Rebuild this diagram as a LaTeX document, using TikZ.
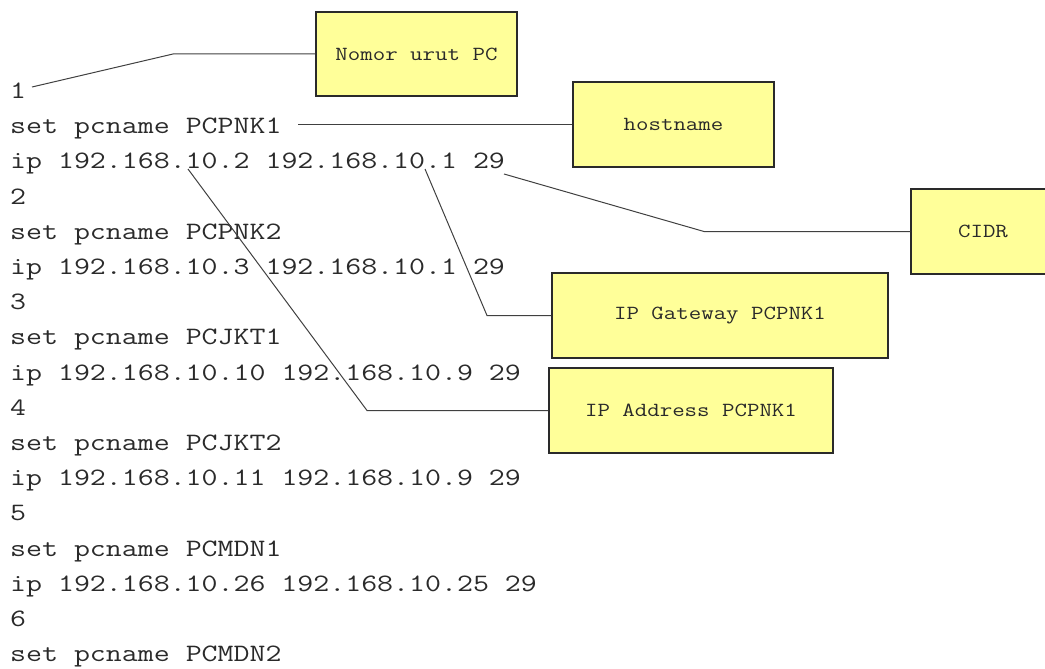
\documentclass[tikz,border=0pt]{standalone}
\usepackage{fontspec}
\newfontfamily\codefont{Latin Modern Mono}[FakeStretch=1.24]
\newfontfamily\boxfont{Latin Modern Mono}[FakeStretch=1.21]
\definecolor{boxfill}{HTML}{FFFF99}
\definecolor{inkgray}{HTML}{2A2A2A}
\tikzset{
  codeline/.style={anchor=base west, inner sep=0pt, text=inkgray,
    font=\codefont\fontsize{25}{28}\selectfont},
  notebox/.style={draw=inkgray, line width=1.3pt, fill=boxfill, inner sep=0pt,
    text=inkgray, font=\boxfont\fontsize{20}{22}\selectfont},
  leader/.style={draw=black!75, line width=1pt}
}
\begin{document}
\begin{tikzpicture}[x=1pt,y=-1pt]
\useasboundingbox (0,0) rectangle (1045,669);
% code lines
\foreach \t [count=\k from 0] in {
  1,
  set pcname PCPNK1,
  ip 192.168.10.2 192.168.10.1 29,
  2,
  set pcname PCPNK2,
  ip 192.168.10.3 192.168.10.1 29,
  3,
  set pcname PCJKT1,
  ip 192.168.10.10 192.168.10.9 29,
  4,
  set pcname PCJKT2,
  ip 192.168.10.11 192.168.10.9 29,
  5,
  set pcname PCMDN1,
  ip 192.168.10.26 192.168.10.25 29,
  6,
  set pcname PCMDN2}
  \node[codeline] (line\k) at (10,{98.5+35.2*\k}) {\t};
% note boxes
\node[notebox, minimum width=201pt, minimum height=84pt] (nomor) at (416.5,54) {Nomor urut PC};
\node[notebox, minimum width=201pt, minimum height=85pt] (host) at (673.5,124.5) {hostname};
\node[notebox, minimum width=144pt, minimum height=85pt] (cidr) at (983,231.5) {CIDR};
\node[notebox, minimum width=336pt, minimum height=85pt] (gw) at (720,315.5) {IP Gateway PCPNK1};
\node[notebox, minimum width=284pt, minimum height=85pt] (addr) at (691,410.5) {IP Address PCPNK1};
% leader start points
\coordinate (s1) at (32,87);
\coordinate (s2) at (298,124.5);
\coordinate (s3) at (504,174);
\coordinate (s4) at (425,169);
\coordinate (s5) at (188,169);
% leaders
\draw[leader] (s1) -- (173,54) -- (nomor.west);
\draw[leader] (s2) -- (host.west);
\draw[leader] (s3) -- (704,231.5) -- (cidr.west);
\draw[leader] (s4) -- (487,315.5) -- (gw.west);
\draw[leader] (s5) -- (367,410.5) -- (addr.west);
\end{tikzpicture}
\end{document}
